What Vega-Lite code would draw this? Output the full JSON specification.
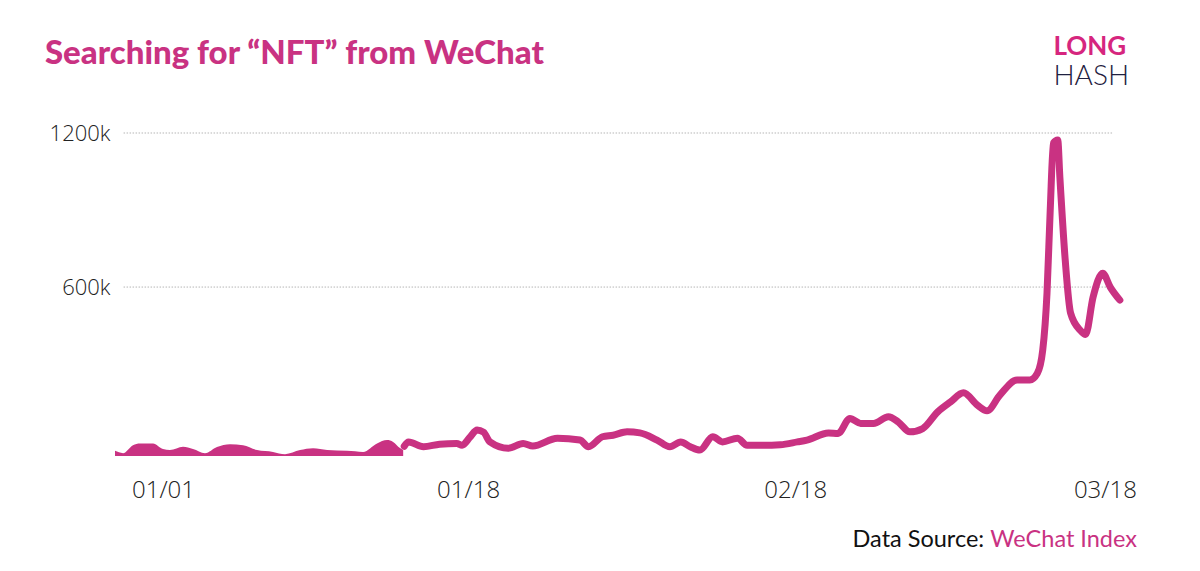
{
  "$schema": "https://vega.github.io/schema/vega-lite/v6.json",
  "description": "Searching for “NFT” from WeChat",
  "autosize": {"type": "none"},
  "padding": {"left": 115, "top": 133, "right": 78, "bottom": 115},
  "width": 1007,
  "height": 323,
  "background": "#ffffff",
  "config": {"view": {"stroke": null}},
  "datasets": {
    "wechat": [
      {"t": 0.0, "v": -38000, "seg": "a"},
      {"t": 0.75, "v": -47000, "seg": "a"},
      {"t": 1.68, "v": -16000, "seg": "a"},
      {"t": 2.33, "v": -9000, "seg": "a"},
      {"t": 3.55, "v": -9000, "seg": "a"},
      {"t": 4.48, "v": -31000, "seg": "a"},
      {"t": 5.13, "v": -35000, "seg": "a"},
      {"t": 6.35, "v": -22000, "seg": "a"},
      {"t": 7.28, "v": -31000, "seg": "a"},
      {"t": 8.4, "v": -47000, "seg": "a"},
      {"t": 9.52, "v": -23000, "seg": "a"},
      {"t": 10.74, "v": -12000, "seg": "a"},
      {"t": 11.95, "v": -16000, "seg": "a"},
      {"t": 13.26, "v": -35000, "seg": "a"},
      {"t": 14.75, "v": -42000, "seg": "a"},
      {"t": 15.87, "v": -51000, "seg": "a"},
      {"t": 17.27, "v": -35000, "seg": "a"},
      {"t": 18.49, "v": -28000, "seg": "a"},
      {"t": 19.8, "v": -35000, "seg": "a"},
      {"t": 21.66, "v": -38000, "seg": "a"},
      {"t": 23.16, "v": -42000, "seg": "a"},
      {"t": 24.46, "v": -9000, "seg": "a"},
      {"t": 25.4, "v": 4000, "seg": "a"},
      {"t": 25.96, "v": -3000, "seg": "a"},
      {"t": 26.6, "v": -27000, "seg": "a"},
      {"t": 26.9, "v": -35000, "seg": "a"},
      {"t": 27.0, "v": -20000, "seg": "b"},
      {"t": 27.4, "v": -3000, "seg": "b"},
      {"t": 28.8, "v": -22000, "seg": "b"},
      {"t": 30.3, "v": -12000, "seg": "b"},
      {"t": 31.9, "v": -9000, "seg": "b"},
      {"t": 32.4, "v": -16000, "seg": "b"},
      {"t": 33.15, "v": 16000, "seg": "b"},
      {"t": 33.8, "v": 43000, "seg": "b"},
      {"t": 34.4, "v": 35000, "seg": "b"},
      {"t": 35.0, "v": -3000, "seg": "b"},
      {"t": 36.7, "v": -28000, "seg": "b"},
      {"t": 38.1, "v": -9000, "seg": "b"},
      {"t": 39.0, "v": -19000, "seg": "b"},
      {"t": 41.3, "v": 11000, "seg": "b"},
      {"t": 43.4, "v": 4000, "seg": "b"},
      {"t": 44.2, "v": -22000, "seg": "b"},
      {"t": 45.5, "v": 17000, "seg": "b"},
      {"t": 46.5, "v": 23000, "seg": "b"},
      {"t": 47.8, "v": 36000, "seg": "b"},
      {"t": 49.0, "v": 32000, "seg": "b"},
      {"t": 50.6, "v": 4000, "seg": "b"},
      {"t": 51.8, "v": -22000, "seg": "b"},
      {"t": 52.8, "v": -3000, "seg": "b"},
      {"t": 53.7, "v": -22000, "seg": "b"},
      {"t": 54.6, "v": -35000, "seg": "b"},
      {"t": 55.8, "v": 17000, "seg": "b"},
      {"t": 56.7, "v": -3000, "seg": "b"},
      {"t": 58.1, "v": 11000, "seg": "b"},
      {"t": 59.0, "v": -16000, "seg": "b"},
      {"t": 60.5, "v": -16000, "seg": "b"},
      {"t": 62.1, "v": -14000, "seg": "b"},
      {"t": 63.7, "v": -3000, "seg": "b"},
      {"t": 64.6, "v": 4000, "seg": "b"},
      {"t": 66.6, "v": 32000, "seg": "b"},
      {"t": 67.5, "v": 30000, "seg": "b"},
      {"t": 68.6, "v": 88000, "seg": "b"},
      {"t": 69.6, "v": 69000, "seg": "b"},
      {"t": 70.8, "v": 69000, "seg": "b"},
      {"t": 72.2, "v": 95000, "seg": "b"},
      {"t": 73.1, "v": 75000, "seg": "b"},
      {"t": 74.2, "v": 36000, "seg": "b"},
      {"t": 75.4, "v": 49000, "seg": "b"},
      {"t": 76.8, "v": 114000, "seg": "b"},
      {"t": 78.0, "v": 153000, "seg": "b"},
      {"t": 79.2, "v": 188000, "seg": "b"},
      {"t": 80.5, "v": 140000, "seg": "b"},
      {"t": 81.4, "v": 118000, "seg": "b"},
      {"t": 82.6, "v": 179000, "seg": "b"},
      {"t": 84.2, "v": 238000, "seg": "b"},
      {"t": 85.4, "v": 238000, "seg": "b"},
      {"t": 86.1, "v": 264000, "seg": "b"},
      {"t": 86.6, "v": 354000, "seg": "b"},
      {"t": 87.0, "v": 577000, "seg": "b"},
      {"t": 87.3, "v": 900000, "seg": "b"},
      {"t": 87.6, "v": 1161000, "seg": "b"},
      {"t": 88.0, "v": 1173000, "seg": "b"},
      {"t": 88.2, "v": 1028000, "seg": "b"},
      {"t": 88.7, "v": 705000, "seg": "b"},
      {"t": 89.2, "v": 499000, "seg": "b"},
      {"t": 90.1, "v": 432000, "seg": "b"},
      {"t": 90.6, "v": 415000, "seg": "b"},
      {"t": 91.3, "v": 561000, "seg": "b"},
      {"t": 92.2, "v": 654000, "seg": "b"},
      {"t": 92.9, "v": 600000, "seg": "b"},
      {"t": 93.8, "v": 549000, "seg": "b"}
    ],
    "grid": [{"g": 600000}, {"g": 1200000}],
    "one": [{}]
  },
  "layer": [
    {
      "data": {"name": "grid"},
      "mark": {"type": "rule", "color": "#b5b5b5", "strokeWidth": 1, "strokeDash": [1.5, 1.5]},
      "encoding": {
        "y": {"field": "g", "type": "quantitative", "scale": {"domain": [-58000, 1200000], "nice": false, "zero": false},
          "axis": {"values": [600000, 1200000], "labelExpr": "datum.value / 1000 + 'k'", "title": null, "domain": false, "ticks": false, "grid": false, "labelFont": "Open Sans", "labelFontWeight": 300, "labelFontSize": 22, "labelColor": "#222222", "labelPadding": 5}},
        "x": {"datum": 0.8, "type": "quantitative", "scale": {"domain": [0, 94], "nice": false, "zero": false}},
        "x2": {"datum": 93.2}
      }
    },
    {
      "data": {"name": "wechat"},
      "transform": [{"filter": "datum.seg === 'a'"}],
      "mark": {"type": "area", "color": "#C93282", "interpolate": "monotone", "opacity": 1},
      "encoding": {
        "x": {"field": "t", "type": "quantitative"},
        "y": {"field": "v", "type": "quantitative"},
        "y2": {"datum": -58000}
      }
    },
    {
      "data": {"name": "wechat"},
      "transform": [{"filter": "datum.seg === 'b'"}],
      "mark": {"type": "line", "color": "#C93282", "interpolate": "monotone", "strokeWidth": 7, "strokeCap": "round", "strokeJoin": "round"},
      "encoding": {
        "x": {"field": "t", "type": "quantitative",
          "axis": {"values": [4.48, 32.96, 63.5, 92.4], "labelExpr": "datum.value < 10 ? '01/01' : datum.value < 40 ? '01/18' : datum.value < 70 ? '02/18' : '03/18'", "title": null, "domain": false, "ticks": false, "grid": false, "labelFont": "Open Sans", "labelFontWeight": 300, "labelFontSize": 24, "labelColor": "#222222", "labelPadding": 22}},
        "y": {"field": "v", "type": "quantitative"}
      }
    },
    {
      "data": {"name": "one"},
      "mark": {"type": "text", "text": "Searching for “NFT” from WeChat", "font": "Lato", "fontWeight": 900, "fontSize": 33, "color": "#C93282", "align": "left", "baseline": "alphabetic"},
      "encoding": {"x": {"datum": -6.54}, "y": {"datum": 1469000}}
    },
    {
      "data": {"name": "one"},
      "mark": {"type": "text", "text": "LONG", "font": "Lato", "fontWeight": "bold", "fontSize": 26, "color": "#D6267E", "align": "left", "baseline": "alphabetic"},
      "encoding": {"x": {"datum": 87.6}, "y": {"datum": 1505000}}
    },
    {
      "data": {"name": "one"},
      "mark": {"type": "text", "text": "HASH", "font": "Lato", "fontWeight": 300, "fontSize": 28, "color": "#1F2140", "align": "left", "baseline": "alphabetic"},
      "encoding": {"x": {"datum": 87.6}, "y": {"datum": 1386000}}
    },
    {
      "data": {"name": "one"},
      "mark": {"type": "text", "text": "Data Source:", "font": "Lato", "fontSize": 23.5, "color": "#111111", "align": "right", "baseline": "alphabetic", "dx": -6},
      "encoding": {"x": {"datum": 81.7}, "y": {"datum": -413000}}
    },
    {
      "data": {"name": "one"},
      "mark": {"type": "text", "text": "WeChat Index", "font": "Lato", "fontSize": 23.5, "color": "#C93282", "align": "left", "baseline": "alphabetic"},
      "encoding": {"x": {"datum": 81.7}, "y": {"datum": -413000}}
    }
  ]
}
